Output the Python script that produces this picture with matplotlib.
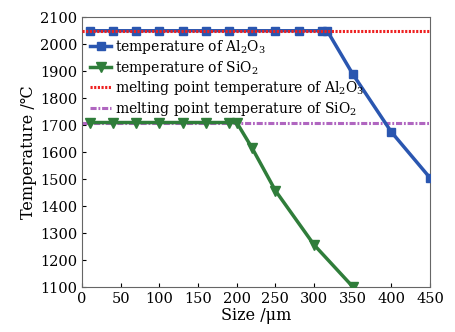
import numpy as np
import matplotlib
matplotlib.use('Agg')
import matplotlib.pyplot as plt

plt.rcParams['font.family'] = ['DejaVu Serif', 'DejaVu Sans']
plt.rcParams['mathtext.fontset'] = 'dejavuserif'

# data
size_al = [10, 40, 70, 100, 130, 160, 190, 220, 250, 280, 310, 317, 350, 400, 450]
temp_al = [2050, 2050, 2050, 2050, 2050, 2050, 2050, 2050, 2050, 2050, 2050, 2050, 1890, 1675, 1505]
size_si = [10, 40, 70, 100, 130, 160, 190, 200, 220, 250, 300, 350]
temp_si = [1710, 1710, 1710, 1710, 1710, 1710, 1710, 1710, 1615, 1458, 1257, 1102]
melt_al = 2050
melt_si = 1710

fig = plt.figure(figsize=(4.56, 3.32), dpi=100)
ax = fig.add_axes([0.18, 0.135, 0.763, 0.813])

ax.plot(size_al, temp_al, '-s', color='#2a56b0', lw=2.5, ms=6,
        label='temperature of Al$_2$O$_3$', zorder=3)
ax.plot(size_si, temp_si, '-v', color='#2f7d3a', lw=2.5, ms=7,
        label='temperature of SiO$_2$', zorder=3)
ax.axhline(melt_al, color='#ee2020', ls=(0, (0.7, 0.5)), lw=2.2,
           label='melting point temperature of Al$_2$O$_3$', zorder=4)
ax.axhline(melt_si, color='#b066c0', ls=(0, (2, 0.6, 0.6, 0.6)), lw=2.2,
           label='melting point temperature of SiO$_2$', zorder=2)

ax.set_xlim(0, 450)
ax.set_ylim(1100, 2100)
ax.set_xticks(np.arange(0, 451, 50))
ax.set_yticks(np.arange(1100, 2101, 100))
ax.tick_params(direction='in', labelsize=10.5, top=False, right=False, length=3)
for s in ax.spines.values():
    s.set_color('#666666')

ax.set_xlabel('Size /μm', fontsize=11.5, labelpad=1)
ax.set_ylabel('Temperature /℃', fontsize=11.5, labelpad=2)

ax.legend(loc='upper left', bbox_to_anchor=(0.0, 0.955), frameon=False,
          fontsize=10, handlelength=1.5, handletextpad=0.3, labelspacing=0.2,
          borderaxespad=0.2)

fig.savefig('out.png', dpi=100)
